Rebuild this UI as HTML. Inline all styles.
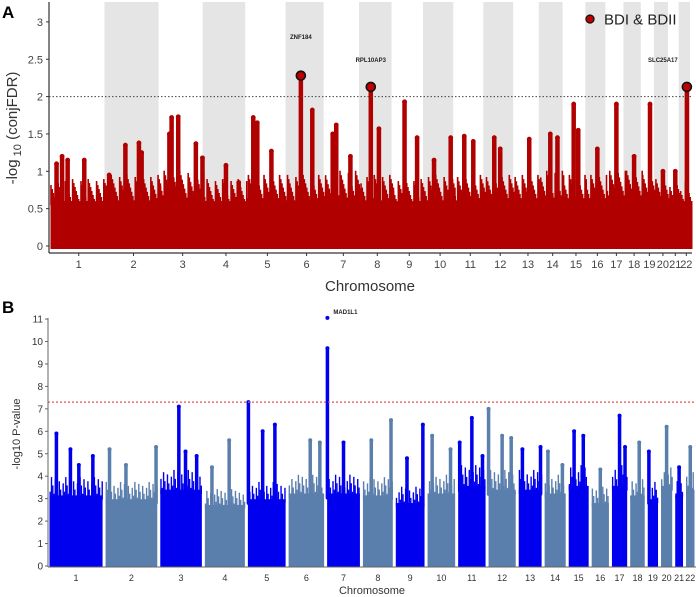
<!DOCTYPE html>
<html><head><meta charset="utf-8"><style>
body{margin:0;background:#fff;}
svg{display:block;font-family:"Liberation Sans",sans-serif;}
</style></head><body>
<svg id="c" width="696" height="597" viewBox="0 0 696 597"></svg>
<script>
const chromLengths=[249,243,198,191,181,171,159,146,141,136,135,134,115,107,102,90,81,78,59,63,48,51];
const chromLabels=["1","2","3","4","5","6","7","8","9","10","11","12","13","14","15","16","17","18","19","20","21","22"];
const baseA=[0.8,0.85,0.9,0.8,0.85,0.85,0.9,0.85,0.8,0.85,0.85,0.85,0.85,0.9,0.85,0.85,0.9,0.9,0.85,0.85,0.8,0.8];
// peaks panel A: [chrom, fraction, value]
const peakChromA=[1,1,1,1,2,2,2,2,3,3,3,3,3,4,4,5,5,5,6,6,7,7,7,8,8,9,9,10,10,11,11,12,12,13,14,14,15,15,16,17,18,19,20,21,22];
const peakFracA=[0.1,0.2,0.3,0.6,0.05,0.35,0.6,0.65,0.2,0.25,0.4,0.8,0.95,0.5,0.8,0.15,0.25,0.6,0.35,0.65,0.2,0.3,0.7,0.3,0.55,0.35,0.75,0.3,0.85,0.3,0.6,0.3,0.5,0.55,0.4,0.7,0.4,0.6,0.5,0.5,0.5,0.55,0.5,0.5,0.55];
const peakValA=[1.1,1.2,1.15,1.15,0.95,1.35,1.38,1.25,1.5,1.72,1.73,1.37,1.18,1.08,0.85,1.72,1.65,1.27,2.28,1.82,1.5,1.62,1.2,2.13,1.57,1.93,1.45,1.15,1.45,1.47,1.4,1.45,1.3,1.43,1.5,1.45,1.9,1.55,1.3,1.9,1.2,1.9,1.0,1.0,2.13];
const hitGenes=["ZNF184","RPL10AP3","SLC25A17"];
const hitChrom=[6,8,22];
const hitFrac=[0.35,0.3,0.55];
const hitVal=[2.28,2.13,2.13];
const yTicksA=[0,0.5,1,1.5,2,2.5,3];
const thresholdA=2;
// panel B
const baseB=[3.7,3.5,4.0,3.2,3.5,3.8,3.8,3.7,3.3,3.8,4.2,4.0,4.0,3.8,4.2,3.3,4.2,3.7,3.5,4.2,3.8,4.0];
const peakChromB=[1,1,1,1,2,2,2,3,3,3,4,4,5,5,5,6,6,7,7,8,8,9,9,10,10,11,11,11,12,12,12,13,13,14,14,15,15,16,17,17,18,19,20,21,22];
const peakFracB=[0.15,0.4,0.55,0.8,0.1,0.4,0.95,0.45,0.6,0.85,0.2,0.6,0.05,0.4,0.7,0.6,0.85,0.05,0.5,0.3,0.9,0.4,0.9,0.2,0.8,0.1,0.5,0.85,0.05,0.5,0.8,0.2,0.9,0.2,0.8,0.3,0.7,0.5,0.5,0.8,0.6,0.2,0.5,0.5,0.5];
const peakValB=[5.9,5.2,4.5,4.9,5.2,4.5,5.3,7.1,5.1,4.9,4.4,5.6,7.3,6.0,6.3,5.6,5.5,9.7,5.5,5.6,6.5,4.8,6.3,5.8,5.2,5.5,6.6,4.9,7.0,5.8,5.7,5.2,5.3,5.1,4.5,6.0,5.8,4.3,6.7,5.3,5.5,5.1,6.2,4.4,5.3];
const topHitB=["MAD1L1",7,0.05,11.05];
const yTicksB=[0,1,2,3,4,5,6,7,8,9,10,11];
const thresholdB=7.3;

const NS="http://www.w3.org/2000/svg";
const svg=document.getElementById('c');
function mk(tag,attrs,parent){const e=document.createElementNS(NS,tag);for(const k in attrs)e.setAttribute(k,attrs[k]);(parent||svg).appendChild(e);return e;}
const total=chromLengths.reduce((a,b)=>a+b,0);
const starts=[];let cum=0;for(const L of chromLengths){starts.push(cum);cum+=L;}

// ---------- Panel A ----------
const gA=mk('g',{});


const xA0=51,xA1=692,yA0=246,yAk=74.7;
const xA=(c,f)=>xA0+(starts[c-1]+f*chromLengths[c-1])/total*(xA1-xA0);
const yA=v=>yA0-v*yAk;
for(let c=2;c<=22;c+=2){const r=mk('rect',{x:xA(c,0)-2,y:2,width:xA(c,1)-xA(c,0),height:246,fill:'#e5e5e5'},gA);

}
const red='#b00000';
for(let c=1;c<=22;c++){
  const x0=xA(c,0),x1=xA(c,1);
  const b=mk('rect',{x:x0-0.5,y:yA(0.6),width:x1-x0+1,height:yA(0)-yA(0.6)+3,fill:red},gA);
  
  
  let i=0;
  for(let x=x0;x<x1;x+=1.2){i++;
    const h=baseA[c-1]*(0.72+0.4*((i*37+c*11)%13)/12);
    mk('line',{x1:x,x2:x,y1:yA(0.55),y2:yA(h),stroke:red,'stroke-width':1.6},gA);}
}
for(let i=0;i<peakValA.length;i++){
  const x=xA(peakChromA[i],peakFracA[i]);
  const l=mk('line',{x1:x,x2:x,y1:yA(0.6),y2:yA(peakValA[i]),stroke:red,'stroke-width':4.5,'stroke-linecap':'round'},gA);
  
  
  mk('circle',{cx:x,cy:yA(peakValA[i]),r:2.4,fill:red},gA);
}
const tA=mk('line',{x1:49,x2:692,y1:yA(thresholdA),y2:yA(thresholdA),stroke:'#444','stroke-width':1,'stroke-dasharray':'1.5,2'},gA);


for(let i=0;i<hitGenes.length;i++){
  const x=xA(hitChrom[i],hitFrac[i]);
  const ci=mk('circle',{cx:x,cy:yA(hitVal[i]),r:4.5,fill:'#c00000',stroke:'#111','stroke-width':1.6},gA);
  
  
  const t=mk('text',{x:x+(i==2?-24:0),y:i==0?39:62,'font-size':6,'font-weight':'bold','text-anchor':'middle',fill:'#222'},gA);
  t.textContent=hitGenes[i];
  
  
}
mk('line',{x1:49,x2:49,y1:2,y2:253,stroke:'#333','stroke-width':1.2},gA);
mk('line',{x1:49,x2:692,y1:253,y2:253,stroke:'#333','stroke-width':1.2},gA);
for(const v of yTicksA){
  mk('line',{x1:46,x2:49,y1:yA(v),y2:yA(v),stroke:'#333'},gA);
  const t=mk('text',{x:43,y:yA(v)+4,'font-size':11,'text-anchor':'end',fill:'#444'},gA);t.textContent=v;
  
  
}
for(let c=1;c<=22;c++){
  const x=xA(c,0.5);
  mk('line',{x1:x,x2:x,y1:253,y2:256,stroke:'#333'},gA);
  const t=mk('text',{x:x,y:268,'font-size':11,'text-anchor':'middle',fill:'#444'},gA);t.textContent=chromLabels[c-1];
  
  
}
const xtA=mk('text',{x:370,y:291,'font-size':15,'text-anchor':'middle',fill:'#333'},gA);xtA.textContent='Chromosome';


const ytA=mk('text',{x:0,y:0,'font-size':15,'text-anchor':'middle',fill:'#333',transform:'translate(17,128) rotate(-90)'},gA);
ytA.innerHTML='-log<tspan font-size="11" dy="4"> 10</tspan><tspan dy="-4"> (conjFDR)</tspan>';


const lg=mk('g',{},gA);


mk('circle',{cx:590,cy:19,r:4,fill:'#c00000',stroke:'#111','stroke-width':1.3},lg);
const lt=mk('text',{x:604,y:24.5,'font-size':15,fill:'#222'},lg);lt.textContent='BDI & BDII';
const la=mk('text',{x:2,y:18,'font-size':17,'font-weight':'bold',fill:'#000'},gA);la.textContent='A';



// ---------- Panel B ----------
const gB=mk('g',{});


const xB0=48,xB1=696,yB0=566,yBk=22.45;
const xB=(c,f)=>xB0+(starts[c-1]+f*chromLengths[c-1])/total*(xB1-xB0);
const yB=v=>yB0-v*yBk;
const colB=c=>c%2?'#0000ee':'#5b7fad';
for(let c=1;c<=22;c++){
  const x0=xB(c,0)+1.5,x1=xB(c,1)-1.5,col=colB(c);
  const b=mk('rect',{x:x0,y:yB(baseB[c-1]*0.85),width:x1-x0,height:yB(0)-yB(baseB[c-1]*0.85)+1,fill:col},gB);
  
  
  let i=0;
  for(let x=x0+0.7;x<x1;x+=1.3){i++;
    const h=baseB[c-1]*(0.82+0.25*((i*29+c*7)%11)/10);
    mk('line',{x1:x,x2:x,y1:yB(baseB[c-1]*0.8),y2:yB(h),stroke:col,'stroke-width':1.4},gB);}
}
for(let i=0;i<peakValB.length;i++){
  const c=peakChromB[i],x=xB(c,peakFracB[i]);
  const l=mk('line',{x1:x,x2:x,y1:yB(baseB[c-1]*0.8),y2:yB(peakValB[i]),stroke:colB(c),'stroke-width':3.5,'stroke-linecap':'round'},gB);
  
  
  mk('circle',{cx:x,cy:yB(peakValB[i]),r:2,fill:colB(c)},gB);
}
{const x=xB(topHitB[1],topHitB[2]);
 const d=mk('circle',{cx:x,cy:yB(topHitB[3]),r:2,fill:'#0000ee'},gB);
 
 
 const t=mk('text',{x:x+6,y:yB(topHitB[3])-4,'font-size':6,'font-weight':'bold',fill:'#222'},gB);t.textContent=topHitB[0];
 
 }
const tB=mk('line',{x1:48,x2:696,y1:yB(thresholdB),y2:yB(thresholdB),stroke:'#e05555','stroke-width':1.3,'stroke-dasharray':'2,2'},gB);


mk('line',{x1:48,x2:48,y1:318,y2:567,stroke:'#666','stroke-width':1},gB);
mk('line',{x1:48,x2:696,y1:567,y2:567,stroke:'#666','stroke-width':1},gB);
for(const v of yTicksB){
  mk('line',{x1:45,x2:48,y1:yB(v),y2:yB(v),stroke:'#666'},gB);
  const t=mk('text',{x:43,y:yB(v)+3.5,'font-size':10,'text-anchor':'end',fill:'#333'},gB);t.textContent=v;
  
  
}
for(let c=1;c<=22;c++){
  const x=xB(c,0.5);
  const t=mk('text',{x:x,y:581,'font-size':9,'text-anchor':'middle',fill:'#333'},gB);t.textContent=chromLabels[c-1];
  
  
}
const xtB=mk('text',{x:372,y:594,'font-size':11,'text-anchor':'middle',fill:'#333'},gB);xtB.textContent='Chromosome';


const ytB=mk('text',{x:0,y:0,'font-size':11,'text-anchor':'middle',fill:'#333',transform:'translate(20,434) rotate(-90)'},gB);ytB.textContent='-log10 P-value';


const lb=mk('text',{x:2,y:313,'font-size':17,'font-weight':'bold',fill:'#000'},gB);lb.textContent='B';


</script>
</body></html>
